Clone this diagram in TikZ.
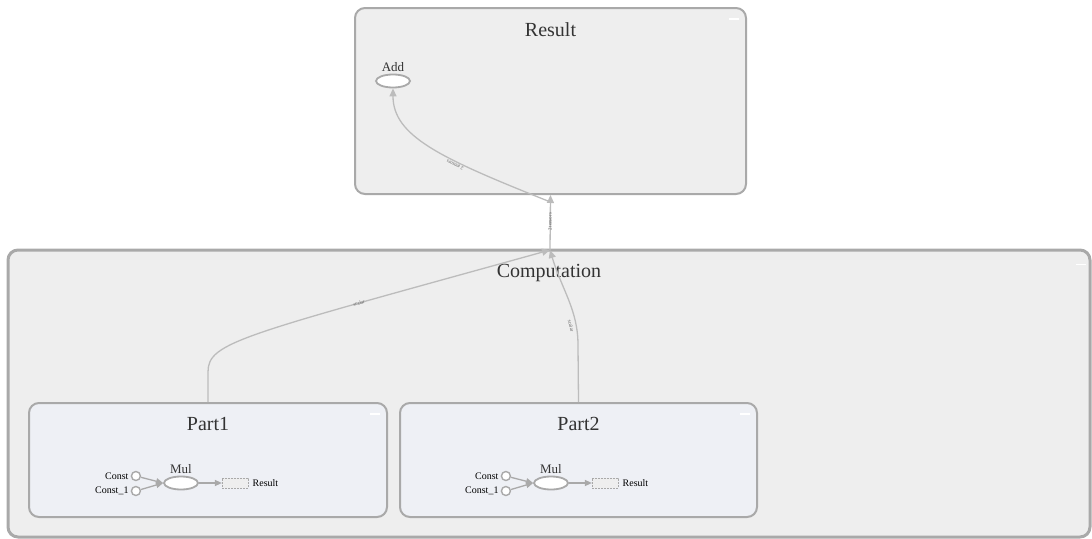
\documentclass[tikz,border=0pt]{standalone}
\usepackage{fontspec}
\setmainfont{Liberation Serif}
\usetikzlibrary{arrows.meta, positioning, calc, shapes.geometric}
\definecolor{grpfill}{HTML}{eeeeee}
\definecolor{subfill}{HTML}{eef0f5}
\definecolor{grpline}{HTML}{a9a9a9}
\definecolor{edgeline}{HTML}{bcbcbc}
\definecolor{txtgray}{HTML}{333333}
\tikzset{
  grp/.style      = {draw=grpline, line width=2pt, rounded corners=10pt, fill=grpfill},
  subgrp/.style   = {draw=grpline, line width=2pt, rounded corners=10pt, fill=subfill},
  grptitle/.style = {font=\fontsize{20}{21}\selectfont, text=txtgray, inner sep=0pt},
  opnode/.style   = {ellipse, draw=grpline, line width=1.8pt, fill=white,
                     minimum width=34pt, minimum height=13pt, inner sep=0pt},
  cnode/.style    = {circle, draw=grpline, line width=1.4pt, fill=white,
                     minimum size=9pt, inner sep=0pt},
  outbox/.style   = {draw=grpline, line width=0.6pt, dash pattern=on 2pt off 1pt,
                     fill=grpfill, minimum width=26pt, minimum height=10pt, inner sep=0pt},
  oplbl/.style    = {font=\fontsize{13}{13}\selectfont, text=txtgray, inner sep=1pt},
  smlbl/.style    = {font=\fontsize{10}{10}\selectfont, text=black, inner sep=1pt},
  elbl/.style     = {font=\fontsize{5}{5}\selectfont, text=txtgray!80, inner sep=0pt},
  flow/.style     = {draw=edgeline, line width=1.3pt, -{Triangle[length=8pt, width=7pt]}},
  subflow/.style  = {draw=grpline, line width=1.3pt, -{Triangle[length=7pt, width=6pt]}},
  fold/.style     = {draw=white, line width=1.6pt},
}

\begin{document}
\begin{tikzpicture}[x=1pt, y=-1pt]
    \useasboundingbox (0,0) rectangle (1092,538);

    % groups
    \node[grp, line width=3pt, minimum width=1082pt, minimum height=287pt] (comp) at (549,393.5) {};
    \node[grp, minimum width=391pt, minimum height=186pt]  (res)   at (550.5,101) {};
    \node[subgrp, minimum width=358pt, minimum height=114pt] (partA) at (208,460) {};
    \node[subgrp, minimum width=357pt, minimum height=114pt] (partB) at (578.5,460) {};

    \node[grptitle, below=15pt of res.north]   {Result};
    \node[grptitle, below=16pt of comp.north]  {Computation};
    \node[grptitle, below=15pt of partA.north] {Part1};
    \node[grptitle, below=15pt of partB.north] {Part2};

    % collapse marks
    \draw[fold] ($(res.north east)+(-18,12)$)   -- ++(10,0);
    \draw[fold] ($(comp.north east)+(-16,16)$)  -- ++(10,0);
    \draw[fold] ($(partA.north east)+(-18,12)$) -- ++(10,0);
    \draw[fold] ($(partB.north east)+(-18,12)$) -- ++(10,0);

    % Result : Add
    \node[opnode] (add) at (393,81) {};
    \node[oplbl, above=1pt of add] {Add};

    % Part1 : Const, Const_1 -> Mul -> Result
    \node[opnode] (mulA) at (181,483) {};
    \node[oplbl, above=1pt of mulA] {Mul};
    \node[cnode, left=22pt of mulA.west, yshift=7pt]  (cA)  {};
    \node[cnode, left=22pt of mulA.west, yshift=-8pt] (c1A) {};
    \node[smlbl, left=1pt of cA]  {Const};
    \node[smlbl, left=1pt of c1A] {Const\_1};
    \node[outbox, right=23pt of mulA] (outA) {};
    \node[smlbl, right=3pt of outA] {Result};
    \draw[subflow] (cA) -- (mulA.west);
    \draw[subflow] (c1A) -- (mulA.west);
    \draw[subflow] (mulA) -- (outA);

    % Part2 : Const, Const_1 -> Mul -> Result
    \node[opnode] (mulB) at (551,483) {};
    \node[oplbl, above=1pt of mulB] {Mul};
    \node[cnode, left=22pt of mulB.west, yshift=7pt]  (cB)  {};
    \node[cnode, left=22pt of mulB.west, yshift=-8pt] (c1B) {};
    \node[smlbl, left=1pt of cB]  {Const};
    \node[smlbl, left=1pt of c1B] {Const\_1};
    \node[outbox, right=23pt of mulB] (outB) {};
    \node[smlbl, right=3pt of outB] {Result};
    \draw[subflow] (cB) -- (mulB.west);
    \draw[subflow] (c1B) -- (mulB.west);
    \draw[subflow] (mulB) -- (outB);

    % edges between groups
    \coordinate (hub) at (550,250);
    \coordinate (rin) at (548,201);
    \draw[flow] (partA.north) -- (208,372) .. controls (208,342) and (240,336) .. (hub);
    \draw[flow] (partB.north) -- (578,345) .. controls (578,310) and (562,290) .. (hub);
    \draw[flow] (hub) -- (res.south);
    \draw[flow] (rin) .. controls (440,158) and (393,136) .. (add.south);

    % edge labels
    \node[elbl, rotate=16]  at (359,303) {scalar};
    \node[elbl, rotate=-76] at (571,326) {scalar};
    \node[elbl, rotate=90]  at (550,222) {2 tensors};
    \node[elbl, rotate=154] at (455,165) {2 tensors};
  \end{tikzpicture}
\end{document}
